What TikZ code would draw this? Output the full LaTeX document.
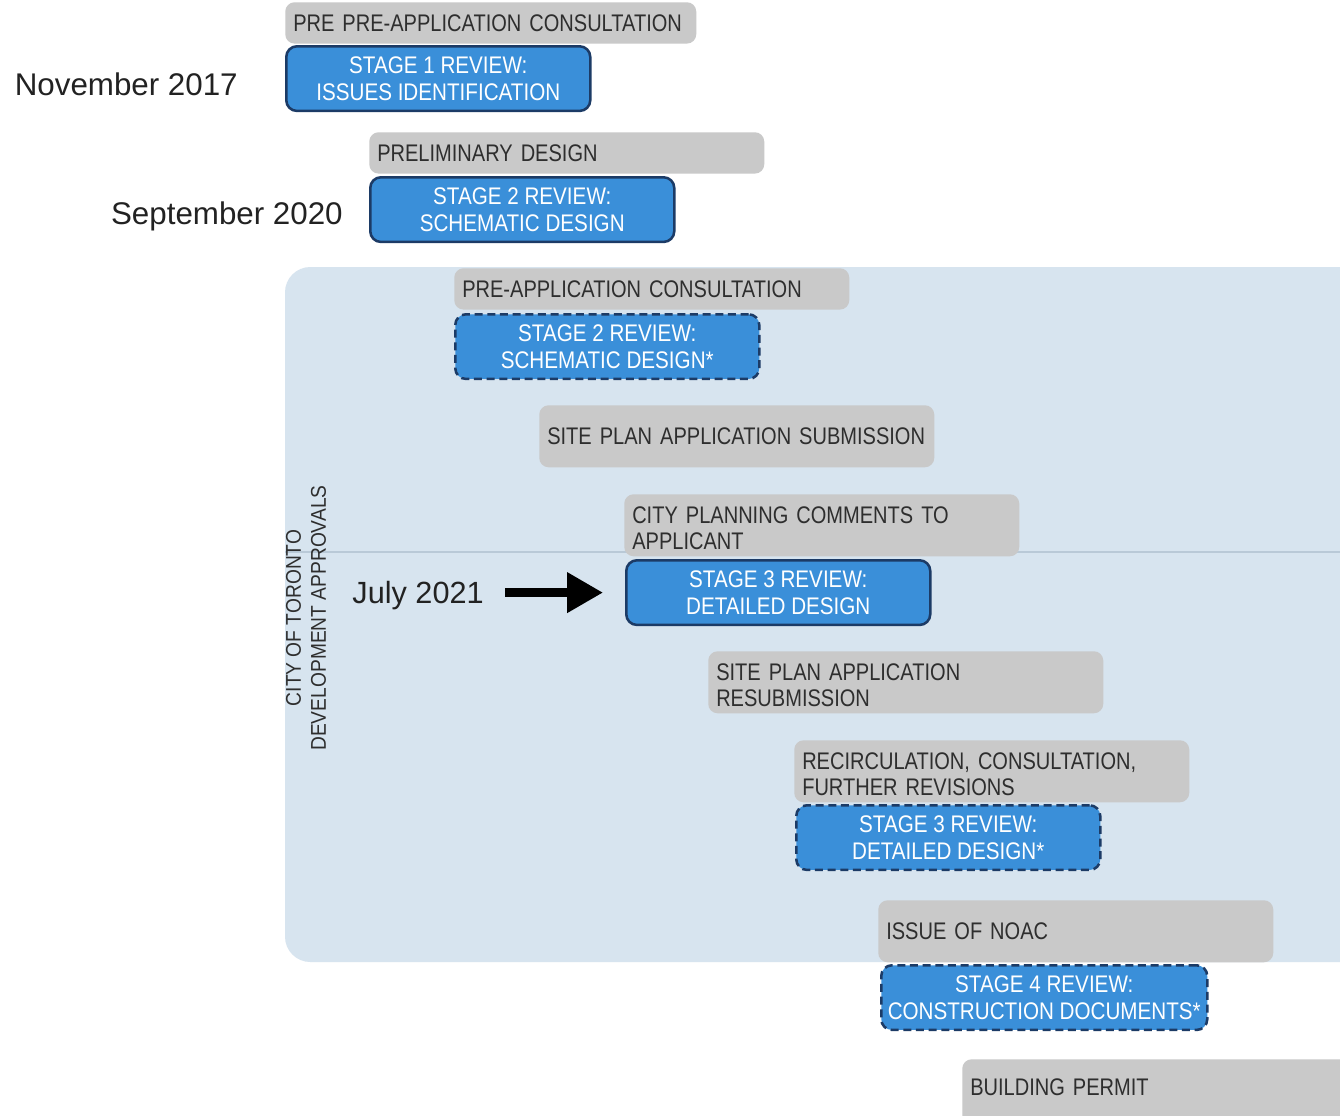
\documentclass[tikz,border=0pt]{standalone}
\usepackage{fontspec}
\setmainfont{Liberation Sans}
\newfontfamily\condfont[FakeStretch=0.835]{Liberation Sans}
\newfontfamily\bluefont[FakeStretch=0.86]{Liberation Sans}
\newfontfamily\vertfont[FakeStretch=0.9]{Liberation Sans}
\usetikzlibrary{arrows.meta}
\definecolor{panelblue}{HTML}{D7E4EF}
\definecolor{grayfill}{HTML}{C9C9C9}
\definecolor{bluefill}{HTML}{3A8FD9}
\definecolor{blueedge}{HTML}{1C3B66}
\definecolor{graytext}{HTML}{2E2E2E}
\definecolor{rulecol}{HTML}{B9C9D7}
\definecolor{datetext}{HTML}{222222}
\begin{document}
\begin{tikzpicture}[x=0.75pt,y=-0.75pt,
  graybox/.style={fill=grayfill, rounded corners=7pt, anchor=north west,
    inner xsep=6pt, inner ysep=0pt, align=left, text width=284.25pt,
    text=graytext, font=\condfont\fontsize{18}{19.5}\selectfont},
  gray1/.style={graybox, minimum height=31pt},
  gray2/.style={graybox, minimum height=46.5pt, text depth=15pt},
  bluebox/.style={fill=bluefill, draw=blueedge, line width=1.9pt,
    rounded corners=8pt, anchor=north west, align=center, text=white,
    inner xsep=2pt, inner ysep=0pt, minimum width=228pt, minimum height=48.5pt,
    text depth=-3pt, font=\bluefont\fontsize{18}{20.25}\selectfont},
  dashedbox/.style={bluebox, dash pattern=on 6pt off 3.5pt},
  datelabel/.style={anchor=base east, inner sep=0pt, text=datetext,
    font=\fontsize{23.5}{27}\selectfont},
  bigarrow/.style={-{Triangle[length=27pt,width=29pt]}, line width=6.3pt, black}
]
\useasboundingbox (0,0) rectangle (1340,1115);
\clip (0,0) rectangle (1340,1115);
\fill[white] (0,0) rectangle (1340,1115);

% panel
\fill[panelblue, rounded corners=19pt] (285,267) rectangle (1420,962);
\draw[rulecol, line width=0.9pt] (285,552) -- (1340,552);

% vertical label
\node[rotate=90, align=center, text=graytext, inner sep=0pt,
  font=\vertfont\fontsize{16}{18.75}\selectfont] (vlab) at (306,618)
  {CITY OF TORONTO\\DEVELOPMENT APPROVALS};

% gray boxes
\node[gray1, minimum width=308.25pt, text width=296.25pt] (g1) at (285,2) {PRE PRE-APPLICATION CONSULTATION};
\node[gray1] (g2) at (369,132) {PRELIMINARY DESIGN};
\node[gray1] (g3) at (454,268) {PRE-APPLICATION CONSULTATION};
\node[graybox, minimum height=46.5pt] (g4) at (539,405) {SITE PLAN APPLICATION SUBMISSION};
\node[gray2] (g5) at (624,494) {CITY PLANNING COMMENTS TO\\APPLICANT};
\node[gray2] (g6) at (708,651) {SITE PLAN APPLICATION\\RESUBMISSION};
\node[gray2] (g7) at (794,740) {RECIRCULATION, CONSULTATION,\\FURTHER REVISIONS};
\node[graybox, minimum height=46.5pt] (g8) at (878,900) {ISSUE OF NOAC};
\node[graybox, minimum height=56pt, text width=330pt, text depth=14pt] (g9) at (962,1059) {BUILDING PERMIT};

% blue boxes
\node[bluebox] (b1) at (285,45) {STAGE 1 REVIEW:\\ISSUES IDENTIFICATION};
\node[bluebox] (b2) at (369,176) {STAGE 2 REVIEW:\\SCHEMATIC DESIGN};
\node[dashedbox] (b3) at (454,313) {STAGE 2 REVIEW:\\SCHEMATIC DESIGN*};
\node[bluebox] (b4) at (625,559) {STAGE 3 REVIEW:\\DETAILED DESIGN};
\node[dashedbox] (b5) at (795,804) {STAGE 3 REVIEW:\\DETAILED DESIGN*};
\node[dashedbox, minimum width=244.5pt] (b6) at (880,964) {STAGE 4 REVIEW:\\CONSTRUCTION DOCUMENTS*};

% dates
\node[datelabel] (nov) at (238,95) {November 2017};
\node[datelabel] (sep) at (343,224) {September 2020};
\node[datelabel, font=\fontsize{23}{27}\selectfont] (jul) at (484,603) {July 2021};

% arrow
\draw[bigarrow, shorten <=15.75pt, shorten >=16.5pt] (jul.east |- b4.west) -- (b4.west);
\end{tikzpicture}
\end{document}
